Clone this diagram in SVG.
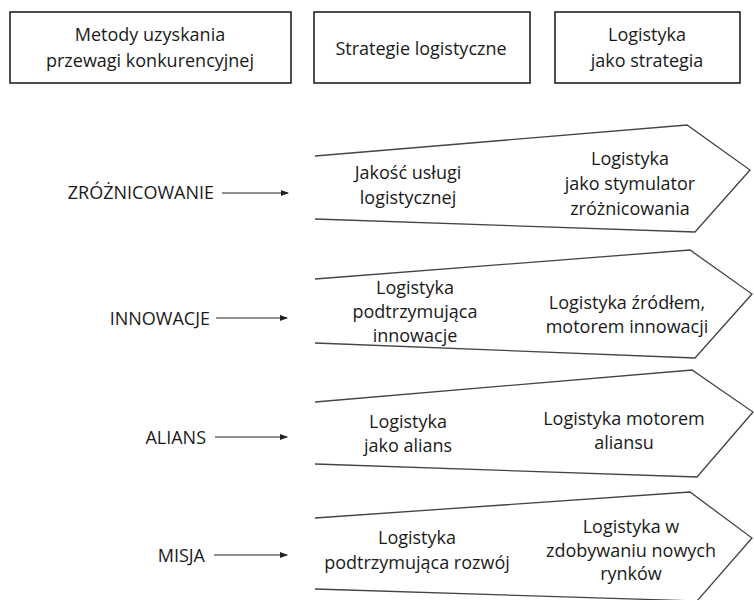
<svg xmlns="http://www.w3.org/2000/svg" width="754" height="600" viewBox="0 0 754 600">
<style>
text{font-family:"Open Sans","Liberation Sans",sans-serif;font-size:18px;fill:#1a1a1a;text-anchor:middle;dominant-baseline:central}
.lbl{text-anchor:end}
.box{fill:#fff;stroke:#222;stroke-width:1.6}
.chev{fill:#fff;stroke:#444;stroke-width:1.3;stroke-linejoin:miter}
.conn{stroke:#222;stroke-width:1.2;fill:none;marker-end:url(#ah)}
</style>
<defs>
<marker id="ah" markerWidth="8" markerHeight="6" refX="7" refY="3" orient="auto" markerUnits="userSpaceOnUse">
<path d="M0,0 L8,3 L0,6 Z" fill="#222"/>
</marker>
</defs>
<rect width="754" height="600" fill="#fff"/>

<g id="header-metody">
<rect class="box" x="10" y="12" width="281" height="71"/>
<text x="150" y="34">Metody uzyskania</text>
<text x="150" y="60">przewagi konkurencyjnej</text>
</g>
<g id="header-strategie">
<rect class="box" x="314" y="12" width="216" height="71"/>
<text x="421" y="48">Strategie logistyczne</text>
</g>
<g id="header-logistyka">
<rect class="box" x="555" y="12" width="185" height="71"/>
<text x="647" y="34">Logistyka</text>
<text x="647" y="60">jako strategia</text>
</g>

<g id="label-zroznicowanie"><text class="lbl" x="214" y="192">ZRÓŻNICOWANIE</text></g>
<g id="label-innowacje"><text class="lbl" x="210" y="318">INNOWACJE</text></g>
<g id="label-alians"><text class="lbl" x="206" y="437">ALIANS</text></g>
<g id="label-misja"><text class="lbl" x="205" y="555">MISJA</text></g>

<g id="connectors">
<line class="conn" x1="222" y1="193" x2="288" y2="193"/>
<line class="conn" x1="216" y1="318" x2="287" y2="318"/>
<line class="conn" x1="215" y1="437" x2="287" y2="437"/>
<line class="conn" x1="214" y1="555" x2="287" y2="555"/>
</g>

<g id="chevron-zroznicowanie">
<polyline class="chev" points="315,156 687,125 750,170 695,232 315,219"/>
<text x="408" y="172">Jakość usługi</text>
<text x="408" y="197">logistycznej</text>
<text x="630" y="158">Logistyka</text>
<text x="630" y="183">jako stymulator</text>
<text x="630" y="208">zróżnicowania</text>
</g>

<g id="chevron-innowacje">
<polyline class="chev" points="315,279 690,250 752,294 695,358 315,343"/>
<text x="415" y="287">Logistyka</text>
<text x="415" y="311">podtrzymująca</text>
<text x="415" y="335">innowacje</text>
<text x="627" y="302">Logistyka źródłem,</text>
<text x="627" y="326">motorem innowacji</text>
</g>

<g id="chevron-alians">
<polyline class="chev" points="315,402 692,370 753,412 697,477 315,464"/>
<text x="408" y="421">Logistyka</text>
<text x="408" y="445">jako alians</text>
<text x="624" y="418">Logistyka motorem</text>
<text x="624" y="442">aliansu</text>
</g>

<g id="chevron-misja">
<polyline class="chev" points="315,518 690,492 752,538 697,601 315,589"/>
<text x="417" y="537">Logistyka</text>
<text x="417" y="562">podtrzymująca rozwój</text>
<text x="631" y="526">Logistyka w</text>
<text x="631" y="550">zdobywaniu nowych</text>
<text x="631" y="573">rynków</text>
</g>
</svg>
